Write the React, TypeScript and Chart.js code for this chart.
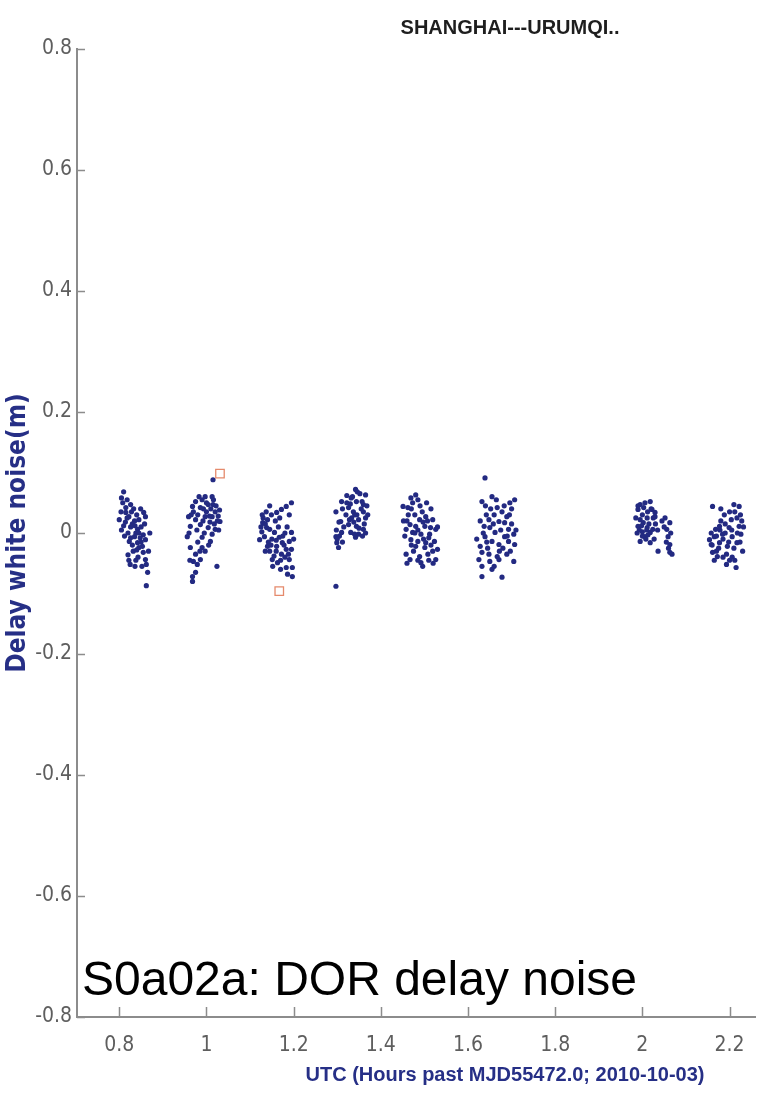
import React, { useEffect, useRef } from "react";
import { Chart, registerables } from "chart.js";

Chart.register(...registerables);

const chartTitle = "SHANGHAI---URUMQI..";
const xAxisTitle = "UTC (Hours past MJD55472.0; 2010-10-03)";
const yAxisTitle = "Delay white noise(m)";
const overlayLabel = "S0a02a: DOR delay noise";

const xTickValues = [0.8, 1, 1.2, 1.4, 1.6, 1.8, 2, 2.2];
const yTickValues = [-0.8, -0.6, -0.4, -0.2, 0, 0.2, 0.4, 0.6, 0.8];
const xMin = 0.703;
const xMax = 2.26;
const yMin = -0.8;
const yMax = 0.8;

const scan1: [number, number][] = [
  [0.81, 0.068], [0.805, 0.058], [0.808, 0.05], [0.826, 0.047], [0.804, 0.035], [0.815, 0.034],
  [0.822, 0.027], [0.8, 0.022], [0.835, 0.02], [0.845, 0.022], [0.856, 0.034], [0.86, 0.027],
  [0.81, 0.012], [0.826, 0.01], [0.842, 0.006], [0.82, 0.0], [0.835, -0.006], [0.855, -0.003],
  [0.86, -0.011], [0.823, -0.014], [0.842, -0.016], [0.845, -0.024], [0.832, -0.03], [0.855, -0.032],
  [0.82, -0.036], [0.843, -0.04], [0.86, -0.044], [0.825, -0.052], [0.862, -0.052], [0.862, -0.087],
  [0.815, 0.042], [0.83, 0.015], [0.838, 0.0], [0.85, 0.01], [0.848, -0.008], [0.83, -0.02],
  [0.85, -0.015], [0.838, -0.045], [0.805, 0.005], [0.812, -0.005], [0.84, 0.03], [0.852, -0.055],
  [0.87, 0.0], [0.867, -0.03],
  [0.818, 0.025], [0.828, 0.035], [0.836, 0.012], [0.845, 0.0], [0.826, -0.008], [0.84, -0.028],
  [0.853, -0.022], [0.818, 0.055], [0.833, 0.04], [0.849, 0.04], [0.822, -0.045], [0.858, 0.015],
  [0.814, 0.018], [0.836, -0.055], [0.865, -0.065],
];

const scan2: [number, number][] = [
  [0.975, 0.052], [0.99, 0.055], [0.997, 0.06], [1.013, 0.06], [0.968, 0.044], [0.986, 0.042],
  [1.004, 0.047], [1.015, 0.047], [0.959, 0.027], [0.975, 0.022], [0.997, 0.027], [1.013, 0.027],
  [1.031, 0.019], [0.963, 0.011], [0.986, 0.014], [1.004, 0.009], [1.02, 0.006], [1.013, -0.002],
  [0.956, -0.006], [0.99, -0.007], [1.009, -0.014], [0.963, -0.024], [0.99, -0.024], [0.997, -0.03],
  [0.975, -0.035], [0.97, -0.047], [0.986, -0.044], [0.979, -0.052], [1.024, -0.055], [0.968, -0.072],
  [0.968, -0.08], [1.015, 0.088], [1.0, 0.035], [1.02, 0.035], [1.025, 0.02], [1.008, 0.018],
  [0.98, 0.03], [1.018, 0.015], [1.027, 0.028], [0.995, 0.0], [1.005, -0.02], [0.97, 0.035],
  [0.983, 0.06], [1.022, 0.045],
  [0.96, 0.0], [0.965, 0.03], [0.978, 0.005], [0.992, 0.02], [1.01, 0.04], [1.028, 0.005],
  [0.98, -0.015], [1.0, 0.05], [0.993, 0.04], [1.016, 0.055], [0.985, -0.03], [0.962, -0.045],
  [0.975, -0.065], [1.03, 0.038], [1.007, 0.028],
];

const scan3: [number, number][] = [
  [1.195, 0.05], [1.183, 0.044], [1.172, 0.039], [1.161, 0.034], [1.149, 0.03], [1.14, 0.022],
  [1.129, 0.017], [1.138, 0.009], [1.127, 0.002], [1.145, 0.006], [1.156, 0.001], [1.133, -0.006],
  [1.195, 0.001], [1.167, -0.007], [1.122, -0.011], [1.174, -0.016], [1.19, -0.014], [1.14, -0.022],
  [1.161, -0.022], [1.183, -0.027], [1.145, -0.03], [1.195, -0.027], [1.172, -0.035], [1.151, -0.044],
  [1.163, -0.049], [1.19, -0.044], [1.183, -0.057], [1.197, -0.057], [1.186, -0.068], [1.197, -0.072],
  [1.13, 0.025], [1.125, 0.01], [1.135, 0.015], [1.15, -0.01], [1.16, -0.03], [1.178, -0.02],
  [1.165, 0.01], [1.17, -0.045], [1.142, -0.015], [1.155, -0.038], [1.18, 0.0], [1.188, -0.035],
  [1.128, 0.03], [1.137, 0.035], [1.145, 0.045], [1.158, 0.02], [1.168, 0.025], [1.148, -0.02],
  [1.16, -0.012], [1.175, -0.005], [1.185, 0.01], [1.19, 0.03], [1.17, -0.06], [1.18, -0.04],
  [1.152, -0.055], [1.135, -0.03], [1.2, -0.01],
];

const scan4: [number, number][] = [
  [1.342, 0.072], [1.365, 0.063], [1.31, 0.052], [1.344, 0.052], [1.36, 0.047], [1.297, 0.035],
  [1.326, 0.042], [1.337, 0.035], [1.36, 0.035], [1.308, 0.019], [1.333, 0.025], [1.349, 0.022],
  [1.365, 0.025], [1.326, 0.014], [1.344, 0.011], [1.36, 0.006], [1.297, -0.006], [1.31, 0.001],
  [1.331, 0.001], [1.349, -0.002], [1.299, -0.016], [1.303, -0.024], [1.342, -0.007], [1.297, -0.088],
  [1.335, 0.06], [1.355, 0.04], [1.34, 0.03], [1.32, 0.03], [1.35, 0.008], [1.338, 0.018],
  [1.305, -0.005], [1.362, 0.015], [1.33, 0.048], [1.315, 0.01], [1.3, -0.01], [1.37, 0.03],
  [1.352, 0.065],
  [1.298, 0.005], [1.304, 0.018], [1.312, 0.04], [1.322, 0.05], [1.328, 0.022], [1.345, 0.03],
  [1.357, 0.052], [1.368, 0.045], [1.346, 0.068], [1.322, 0.062], [1.34, -0.002], [1.358, -0.005],
  [1.312, -0.015], [1.332, 0.058], [1.365, 0.0],
];

const scan5: [number, number][] = [
  [1.48, 0.063], [1.469, 0.058], [1.485, 0.055], [1.451, 0.044], [1.462, 0.042], [1.473, 0.05],
  [1.478, 0.03], [1.489, 0.022], [1.503, 0.027], [1.519, 0.022], [1.467, 0.014], [1.48, 0.011],
  [1.501, 0.011], [1.514, 0.009], [1.526, 0.006], [1.458, 0.006], [1.473, 0.001], [1.492, -0.002],
  [1.512, -0.002], [1.469, -0.011], [1.485, -0.014], [1.503, -0.016], [1.523, -0.014], [1.48, -0.022],
  [1.501, -0.024], [1.519, -0.03], [1.53, -0.027], [1.458, -0.035], [1.467, -0.044], [1.489, -0.039],
  [1.492, -0.049], [1.508, -0.035], [1.526, -0.044], [1.496, -0.055], [1.46, 0.02], [1.495, 0.035],
  [1.51, -0.008], [1.475, -0.03], [1.515, 0.04], [1.455, -0.005], [1.52, -0.05], [1.485, 0.005],
  [1.452, 0.02], [1.463, 0.03], [1.47, 0.04], [1.49, 0.045], [1.505, 0.05], [1.497, 0.018],
  [1.507, 0.02], [1.478, 0.0], [1.498, -0.01], [1.515, -0.02], [1.47, -0.02], [1.485, -0.045],
  [1.51, -0.045], [1.53, 0.01], [1.46, -0.05],
];

const scan6: [number, number][] = [
  [1.639, 0.091], [1.632, 0.052], [1.655, 0.06], [1.696, 0.05], [1.707, 0.055], [1.667, 0.042],
  [1.678, 0.035], [1.689, 0.027], [1.648, 0.022], [1.671, 0.019], [1.684, 0.017], [1.637, 0.011],
  [1.65, 0.009], [1.693, 0.006], [1.705, -0.002], [1.639, -0.006], [1.662, 0.001], [1.684, -0.006],
  [1.655, -0.014], [1.628, -0.022], [1.671, -0.019], [1.693, -0.014], [1.707, -0.019], [1.632, -0.032],
  [1.648, -0.035], [1.667, -0.039], [1.689, -0.035], [1.625, -0.044], [1.65, -0.047], [1.671, -0.044],
  [1.705, -0.047], [1.632, -0.072], [1.678, -0.073], [1.66, 0.03], [1.675, 0.005], [1.645, -0.025],
  [1.695, 0.03], [1.635, 0.0], [1.68, -0.025], [1.7, 0.015], [1.66, -0.055], [1.642, 0.03],
  [1.628, 0.02], [1.64, 0.045], [1.652, 0.04], [1.665, 0.055], [1.683, 0.045], [1.7, 0.04],
  [1.658, 0.015], [1.69, -0.005], [1.672, -0.03], [1.643, -0.015], [1.632, -0.055], [1.655, -0.06],
  [1.697, -0.03], [1.71, 0.005], [1.62, -0.01],
];

const scan7: [number, number][] = [
  [1.995, 0.047], [2.006, 0.05], [2.018, 0.052], [1.99, 0.039], [2.022, 0.039], [2.029, 0.034],
  [1.995, 0.022], [2.002, 0.017], [1.99, 0.011], [2.011, 0.009], [2.0, 0.002], [2.018, 0.001],
  [2.006, -0.006], [2.024, 0.006], [2.052, 0.025], [2.063, 0.017], [2.056, 0.006], [2.059, -0.006],
  [1.995, -0.014], [2.018, -0.016], [2.036, -0.03], [2.063, -0.019], [2.063, -0.032], [2.029, 0.027],
  [2.011, 0.025], [2.0, 0.03], [2.015, 0.015], [1.993, 0.005], [2.008, -0.01], [2.03, 0.015],
  [2.05, 0.01], [2.06, -0.025], [2.02, 0.04], [1.985, 0.025],
  [1.99, 0.045], [2.003, 0.042], [2.012, 0.035], [2.025, 0.025], [1.988, 0.0], [2.0, -0.005],
  [2.013, -0.003], [2.027, -0.01], [2.045, 0.02], [2.055, -0.015], [1.998, 0.012], [2.01, 0.005],
  [2.035, 0.005], [2.065, 0.0], [2.068, -0.035],
];

const scan8: [number, number][] = [
  [2.161, 0.044], [2.188, 0.03], [2.21, 0.047], [2.222, 0.044], [2.204, 0.022], [2.217, 0.025],
  [2.177, 0.011], [2.199, 0.009], [2.222, 0.011], [2.165, -0.006], [2.184, -0.002], [2.206, -0.006],
  [2.226, -0.002], [2.158, -0.019], [2.177, -0.016], [2.195, -0.022], [2.217, -0.016], [2.161, -0.032],
  [2.172, -0.039], [2.193, -0.035], [2.206, -0.04], [2.193, -0.052], [2.215, -0.057], [2.168, 0.006],
  [2.154, -0.011], [2.2, 0.035], [2.185, -0.01], [2.21, -0.025], [2.175, -0.025], [2.225, 0.03],
  [2.19, 0.0], [2.165, -0.045], [2.2, -0.045], [2.218, 0.0], [2.18, 0.02], [2.23, -0.03],
  [2.17, -0.005], [2.178, 0.005], [2.19, 0.015], [2.205, 0.005], [2.212, 0.035], [2.228, 0.02],
  [2.16, -0.02], [2.17, -0.03], [2.185, -0.04], [2.198, -0.015], [2.212, -0.045], [2.224, -0.015],
  [2.158, 0.0], [2.18, 0.04], [2.232, 0.01],
];

const rejected: [number, number][] = [
  [1.031, 0.098],
  [1.167, -0.096],
];

const POINT_COLOR = "#232a82";
const REJECT_COLOR = "#e58a6c";
const AXIS_COLOR = "#8c8c8c";
const TICK_LABEL_COLOR = "#5e5e5e";
const AXIS_TITLE_COLOR = "#262f86";
const CONDENSED = '"DejaVu Sans Condensed", "Liberation Sans", Arial, sans-serif';
const SANS = '"Liberation Sans", Arial, sans-serif';

const toXY = (arr: [number, number][]) => arr.map(([x, y]) => ({ x, y }));

const decorPlugin = {
  id: "decor",
  afterDraw(chart: any) {
    const ctx = chart.ctx as CanvasRenderingContext2D;
    const xs = chart.scales.x;
    const ys = chart.scales.y;
    const { left, bottom } = chart.chartArea;
    ctx.save();
    ctx.strokeStyle = AXIS_COLOR;
    ctx.lineWidth = 1.5;
    ctx.beginPath();
    xTickValues.forEach((v) => {
      const px = Math.round(xs.getPixelForValue(v)) + 0.5;
      ctx.moveTo(px, bottom);
      ctx.lineTo(px, bottom - 10);
    });
    yTickValues.forEach((v) => {
      const py = Math.round(ys.getPixelForValue(v)) + 0.5;
      ctx.moveTo(left, py);
      ctx.lineTo(left + 8, py);
    });
    ctx.stroke();

    ctx.textAlign = "center";
    ctx.textBaseline = "middle";
    ctx.fillStyle = "#1e1e1e";
    ctx.font = `bold 20px ${SANS}`;
    ctx.fillText(chartTitle, 510, 28);

    ctx.fillStyle = AXIS_TITLE_COLOR;
    ctx.font = `bold 20px ${SANS}`;
    ctx.fillText(xAxisTitle, 505, 1075);

    ctx.textAlign = "left";
    ctx.textBaseline = "alphabetic";
    ctx.fillStyle = "#000000";
    ctx.font = `48px ${SANS}`;
    ctx.fillText(overlayLabel, left + 5, 995);
    ctx.restore();
  },
};

export default function App() {
  const canvasRef = useRef<HTMLCanvasElement | null>(null);

  useEffect(() => {
    document.body.style.margin = "0";
    document.body.style.overflow = "hidden";
    const canvas = canvasRef.current;
    if (!canvas) return;
    const fmt = (v: number) => String(Number(v.toFixed(1)));
    const chart = new Chart(canvas, {
      type: "scatter",
      data: {
        datasets: [
          {
            label: "delay noise",
            data: [
              ...toXY(scan1), ...toXY(scan2), ...toXY(scan3), ...toXY(scan4),
              ...toXY(scan5), ...toXY(scan6), ...toXY(scan7), ...toXY(scan8),
            ],
            pointRadius: 2.6,
            pointBorderWidth: 0,
            backgroundColor: POINT_COLOR,
            borderColor: POINT_COLOR,
          },
          {
            label: "rejected",
            data: toXY(rejected),
            pointStyle: "rect",
            pointRadius: 6,
            pointBorderWidth: 1.3,
            backgroundColor: "rgba(0,0,0,0)",
            borderColor: REJECT_COLOR,
          },
        ],
      },
      options: {
        animation: false,
        responsive: false,
        maintainAspectRatio: false,
        layout: { padding: { top: 49, left: 0, right: 0, bottom: 0 } },
        plugins: {
          legend: { display: false },
          tooltip: { enabled: false },
          title: { display: false },
        },
        scales: {
          x: {
            type: "linear",
            min: xMin,
            max: xMax,
            afterBuildTicks: (s: any) => {
              s.ticks = xTickValues.map((value) => ({ value }));
            },
            afterFit: (s: any) => {
              s.height = 79;
            },
            grid: { display: true, drawOnChartArea: false, drawTicks: false },
            border: { display: true, color: AXIS_COLOR, width: 2 },
            ticks: {
              padding: 16,
              color: TICK_LABEL_COLOR,
              font: { family: CONDENSED, size: 21 },
              callback: (v: any) => fmt(Number(v)),
              maxRotation: 0,
              autoSkip: false,
            },
          },
          y: {
            type: "linear",
            min: yMin,
            max: yMax,
            afterBuildTicks: (s: any) => {
              s.ticks = yTickValues.map((value) => ({ value }));
            },
            afterFit: (s: any) => {
              s.width = 77;
            },
            grid: { display: true, drawOnChartArea: false, drawTicks: false },
            border: { display: true, color: AXIS_COLOR, width: 2 },
            ticks: {
              padding: 5,
              color: TICK_LABEL_COLOR,
              font: { family: CONDENSED, size: 21 },
              callback: (v: any) => fmt(Number(v)),
              autoSkip: false,
            },
            title: {
              display: true,
              text: yAxisTitle,
              color: AXIS_TITLE_COLOR,
              font: { family: CONDENSED, size: 26, weight: "bold" },
              padding: { top: 3, bottom: 0 },
            },
          },
        },
      },
      plugins: [decorPlugin],
    });
    return () => chart.destroy();
  }, []);

  return <canvas ref={canvasRef} width={763} height={1096} style={{ display: "block" }} />;
}
